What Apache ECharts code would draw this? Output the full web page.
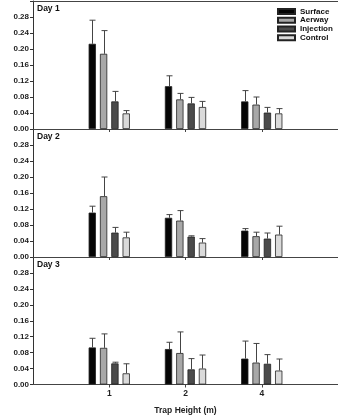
<!DOCTYPE html>
<html>
<head>
<meta charset="utf-8">
<script src="https://cdn.jsdelivr.net/npm/echarts@6/dist/echarts.min.js"></script>
<style>
  html, body { margin: 0; padding: 0; background: #fff; }
  #chart { width: 338px; height: 418px; }
</style>
</head>
<body>
<div id="chart"></div>
<script>
// trap heights (m) and treatments
const heights = ['1', '2', '4'];
const treatments = ['Surface', 'Aerway', 'Injection', 'Control'];
const days = ['Day 1', 'Day 2', 'Day 3'];

// means per day, per treatment (heights 1, 2, 4)
const day1Means = [[0.213, 0.107, 0.069], [0.188, 0.074, 0.061], [0.069, 0.064, 0.041], [0.039, 0.055, 0.039]];
const day2Means = [[0.111, 0.098, 0.066], [0.152, 0.091, 0.052], [0.061, 0.051, 0.046], [0.049, 0.036, 0.056]];
const day3Means = [[0.093, 0.089, 0.065], [0.092, 0.079, 0.055], [0.053, 0.038, 0.052], [0.028, 0.040, 0.035]];

// standard errors (upper whisker length)
const day1Err = [[0.059, 0.026, 0.027], [0.058, 0.015, 0.019], [0.025, 0.015, 0.013], [0.007, 0.014, 0.012]];
const day2Err = [[0.016, 0.008, 0.005], [0.048, 0.025, 0.010], [0.013, 0.002, 0.014], [0.013, 0.010, 0.021]];
const day3Err = [[0.023, 0.017, 0.044], [0.035, 0.053, 0.048], [0.003, 0.027, 0.023], [0.024, 0.034, 0.029]];

const means = [day1Means, day2Means, day3Means];
const errs = [day1Err, day2Err, day3Err];

const colors = ['#050505', '#a8a8a8', '#4b4b4b', '#dadada'];
const FONT = 'Liberation Sans';
const BAR_W = 7.3;
const BAR_GAP = 4;

const grids = [
  { left: 33, right: 0, top: 1, height: 128 },
  { left: 33, right: 0, top: 129, height: 128 },
  { left: 33, right: 0, top: 257, height: 127.5 },
];

let xAxes = [];
let yAxes = [];
days.forEach((d, g) => {
  const last = g === days.length - 1;
  xAxes.push({
    type: 'value',
    gridIndex: g,
    min: 0,
    max: 4,
    interval: 1,
    splitLine: { show: false },
    axisLine: { lineStyle: { color: '#444', width: 1.2 } },
    axisTick: { show: true, length: 3, customValues: [1, 2, 3], lineStyle: { color: '#444' } },
    axisLabel: {
      show: last,
      customValues: [1, 2, 3],
      formatter: v => heights[v - 1],
      color: '#222',
      fontFamily: FONT,
      fontWeight: 'bold',
      fontSize: 8.5,
      margin: 5,
    },
    name: last ? 'Trap Height (m)' : '',
    nameLocation: 'middle',
    nameGap: 22,
    nameTextStyle: { color: '#222', fontFamily: FONT, fontWeight: 'bold', fontSize: 8.5 },
  });
  yAxes.push({
    type: 'value',
    gridIndex: g,
    min: 0,
    max: 0.32,
    interval: 0.04,
    splitLine: { show: false },
    axisLine: { show: true, lineStyle: { color: '#333', width: 1 } },
    axisTick: { show: true, length: 3, lineStyle: { color: '#333' } },
    axisLabel: {
      formatter: v => (v > 0.3 ? '' : v.toFixed(2)),
      color: '#222',
      fontFamily: FONT,
      fontWeight: 'bold',
      fontSize: 8,
      margin: 4,
    },
  });
});
// top border of first panel
xAxes.push({
  type: 'value',
  gridIndex: 0,
  position: 'top',
  min: 0,
  max: 4,
  splitLine: { show: false },
  axisLine: { lineStyle: { color: '#444', width: 1.2 } },
  axisTick: { show: false },
  axisLabel: { show: false },
});

let series = [];
days.forEach((d, g) => {
  treatments.forEach((t, s) => {
    series.push({
      name: t,
      type: 'bar',
      xAxisIndex: g,
      yAxisIndex: g,
      barWidth: BAR_W,
      barGap: (BAR_GAP / BAR_W * 100).toFixed(0) + '%',
      itemStyle: { color: colors[s], borderColor: '#222', borderWidth: 0.8 },
      data: heights.map((h, i) => [i + 1, means[g][s][i]]),
    });
  });
  treatments.forEach((t, s) => {
    series.push({
      name: t + ' SE',
      type: 'custom',
      xAxisIndex: g,
      yAxisIndex: g,
      z: 3,
      data: heights.map((h, i) => [i + 1, means[g][s][i], errs[g][s][i]]),
      renderItem: (params, api) => {
        const x = api.value(0);
        const m = api.value(1);
        const e = api.value(2);
        const off = (s - 1.5) * (BAR_W + BAR_GAP);
        const p0 = api.coord([x, m]);
        const p1 = api.coord([x, m + e]);
        const cx = Math.round(p0[0] + off) + 0.5;
        const style = { stroke: '#444', lineWidth: 1 };
        return {
          type: 'group',
          children: [
            { type: 'line', shape: { x1: cx, y1: p0[1], x2: cx, y2: p1[1] }, style },
            { type: 'line', shape: { x1: cx - 3, y1: p1[1], x2: cx + 3, y2: p1[1] }, style },
          ],
        };
      },
    });
  });
});

const chart = echarts.init(document.getElementById('chart'));
chart.setOption({
  animation: false,
  grid: grids,
  xAxis: xAxes,
  yAxis: yAxes,
  legend: {
    data: treatments,
    orient: 'vertical',
    left: 277,
    top: 3,
    padding: [4, 0, 0, 0],
    icon: 'rect',
    itemWidth: 17,
    itemHeight: 5,
    itemGap: 0,
    textStyle: { color: '#111', fontFamily: FONT, fontWeight: 'bold', fontSize: 8, lineHeight: 8.8 },
  },
  graphic: days.map((d, g) => ({
    type: 'text',
    left: 37,
    top: grids[g].top + 3,
    style: { text: d, fill: '#111', font: 'bold 8.5px ' + FONT },
  })),
  series: series,
});
</script>
</body>
</html>
